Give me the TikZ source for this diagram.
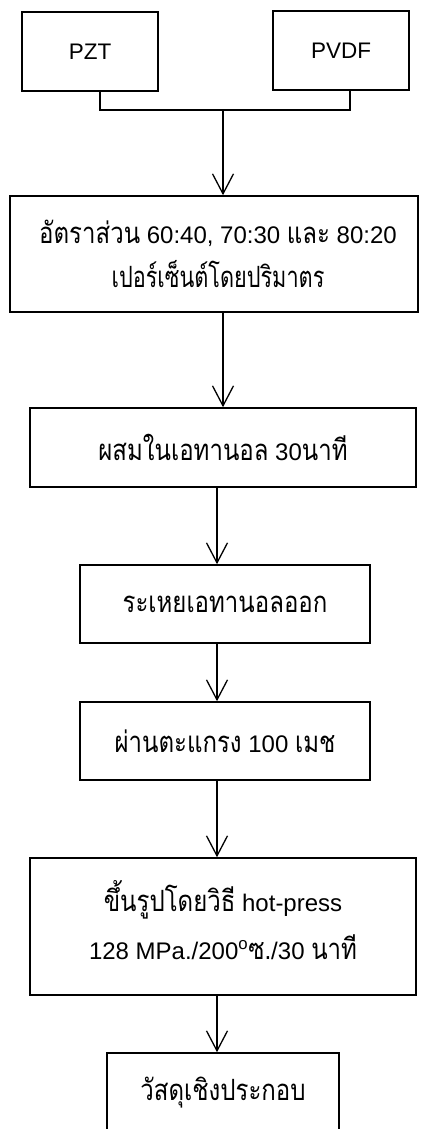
\documentclass[tikz,border=0pt]{standalone}
\usepackage{fontspec}
\setmainfont{Liberation Sans}
\newfontfamily\thaifont[Script=Thai,Scale=1.22,FakeStretch=0.82]{Loma}
\newcommand{\thai}[1]{{\thaifont #1}}
\usetikzlibrary{arrows.meta}
\begin{document}
\begin{tikzpicture}[x=1pt,y=-1pt,
  box/.style={draw, line width=1.6pt, inner sep=0pt, align=center,
    font=\fontsize{24}{44}\selectfont},
  link/.style={line width=1.3pt},
  arr/.style={line width=1.3pt, -{Straight Barb[length=20pt,width=21pt,line width=1.3pt]}}]
\useasboundingbox (0,0) rectangle (427,1129);
\clip (0,0) rectangle (427,1129);
\node[box, minimum width=136pt, minimum height=79pt, font=\fontsize{22.5}{27}\selectfont] (pzt) at (90,51.5) {PZT};
\node[box, minimum width=136pt, minimum height=79pt, font=\fontsize{22.5}{27}\selectfont] (pvdf) at (341,50.5) {PVDF};
\node[box, minimum width=408pt, minimum height=116pt] (ratio) at (214,254)
  {\hspace*{8pt}\thai{อัตราส่วน} 60:40, 70:30 \thai{และ} 80:20\\\hspace*{8pt}{\thaifont\addfontfeature{FakeStretch=0.74}เปอร์เซ็นต์โดยปริมาตร}};
\node[box, minimum width=386pt, minimum height=79pt] (mix) at (223,447.5)
  {\thai{ผสมในเอทานอล} 30\thai{นาที}};
\node[box, minimum width=290pt, minimum height=78pt] (evap) at (225,604)
  {\thai{ระเหยเอทานอลออก}};
\node[box, minimum width=290pt, minimum height=78pt] (sieve) at (225,741)
  {\thai{ผ่านตะแกรง} 100 \thai{เมช}};
\node[box, minimum width=386pt, minimum height=137pt, font=\fontsize{24}{48}\selectfont] (press) at (223,926.5)
  {\thai{ขึ้นรูปโดยวิธี} hot-press\\128 MPa./200\textsuperscript{o}\thai{ซ.}/30 \thai{นาที}\rule[-14pt]{0pt}{1pt}};
\node[box, minimum width=232pt, minimum height=80pt] (comp) at (223,1093)
  {\thai{วัสดุเชิงประกอบ}};
\coordinate (j) at (223,110);
\coordinate (xa) at (217,0);
\draw[link] ([xshift=10pt]pzt.south) |- (j) -| ([xshift=9pt]pvdf.south);
\draw[arr] (j) -- (j |- ratio.north);
\draw[arr] (ratio.south -| j) -- (mix.north -| j);
\draw[arr] (mix.south -| xa) -- (evap.north -| xa);
\draw[arr] (evap.south -| xa) -- (sieve.north -| xa);
\draw[arr] (sieve.south -| xa) -- (press.north -| xa);
\draw[arr] (press.south -| xa) -- (comp.north -| xa);
\end{tikzpicture}
\end{document}
